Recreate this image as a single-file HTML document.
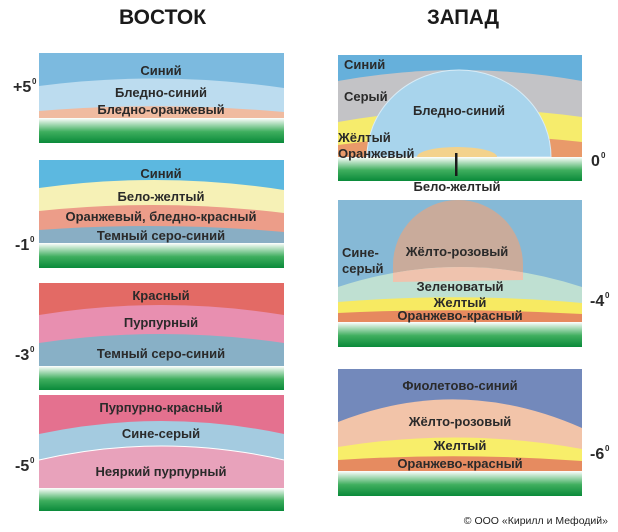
<!DOCTYPE html>
<html><head><meta charset="utf-8"><style>
html,body{margin:0;padding:0;background:#fff;width:618px;height:532px;overflow:hidden}
svg text{font-family:"Liberation Sans",sans-serif;font-weight:bold;fill:#2a2a2a}
</style></head><body>
<svg width="618" height="532" viewBox="0 0 618 532" xmlns="http://www.w3.org/2000/svg">
<defs>
<linearGradient id="g" x1="0" y1="0" x2="0" y2="1">
<stop offset="0" stop-color="#ffffff"/><stop offset="0.55" stop-color="#3fae5e"/><stop offset="1" stop-color="#0a8a3a"/>
</linearGradient>
<clipPath id="domeB"><path d="M393,282 L393,265 A65,65 0 0 1 523,265 L523,280 Z"/></clipPath>
</defs>
<g font-size="13">
<text x="119" y="24" font-size="21" textLength="87" lengthAdjust="spacingAndGlyphs" style="fill:#1a1a1a">ВОСТОК</text>
<text x="427" y="24" font-size="21" textLength="72" lengthAdjust="spacingAndGlyphs" style="fill:#1a1a1a">ЗАПАД</text>

<rect x="39" y="53" width="245" height="65" fill="#7cbadf"/>
<path d="M39,86 Q161,70 284,88 L284,118 L39,118 Z" fill="#bcdcef"/>
<path d="M39,111 Q161,101 284,112 L284,118 L39,118 Z" fill="#f0bba0"/>
<rect x="39" y="118" width="245" height="25" fill="url(#g)"/>
<text x="161" y="75" text-anchor="middle">Синий</text>
<text x="161" y="97" text-anchor="middle">Бледно-синий</text>
<text x="161" y="114" text-anchor="middle">Бледно-оранжевый</text>

<rect x="39" y="160" width="245" height="83" fill="#5cb8e0"/>
<path d="M39,188 Q161,171 284,190 L284,243 L39,243 Z" fill="#f6f1b6"/>
<path d="M39,211 Q161,198 284,213 L284,243 L39,243 Z" fill="#ec9d89"/>
<path d="M39,230 Q161,221 284,232 L284,243 L39,243 Z" fill="#89aec4"/>
<rect x="39" y="243" width="245" height="25" fill="url(#g)"/>
<text x="161" y="178" text-anchor="middle">Синий</text>
<text x="161" y="201" text-anchor="middle">Бело-желтый</text>
<text x="161" y="221" text-anchor="middle">Оранжевый, бледно-красный</text>
<text x="161" y="240" text-anchor="middle">Темный серо-синий</text>

<rect x="39" y="283" width="245" height="83" fill="#e36a65"/>
<path d="M39,315 Q161,295 284,315 L284,366 L39,366 Z" fill="#e88fb0"/>
<path d="M39,343 Q161,325 284,343 L284,366 L39,366 Z" fill="#88b0c6"/>
<rect x="39" y="366" width="245" height="24" fill="url(#g)"/>
<text x="161" y="300" text-anchor="middle">Красный</text>
<text x="161" y="327" text-anchor="middle">Пурпурный</text>
<text x="161" y="358" text-anchor="middle">Темный серо-синий</text>

<rect x="39" y="395" width="245" height="93" fill="#e4718f"/>
<path d="M39,434 Q161,408 284,434 L284,488 L39,488 Z" fill="#a4cbe0"/>
<path d="M39,460 Q161,432 284,460 L284,488 L39,488 Z" fill="#e8a2bb"/>
<path d="M39,460 Q161,432 284,460" fill="none" stroke="#fff" stroke-width="1"/>
<rect x="39" y="488" width="245" height="23" fill="url(#g)"/>
<text x="161" y="412" text-anchor="middle">Пурпурно-красный</text>
<text x="161" y="438" text-anchor="middle">Сине-серый</text>
<text x="161" y="476" text-anchor="middle">Неяркий пурпурный</text>

<text x="13" y="92" font-size="16">+5</text><text x="32" y="84" font-size="8">0</text>
<text x="15" y="250" font-size="16">-1</text><text x="30" y="242" font-size="8">0</text>
<text x="15" y="360" font-size="16">-3</text><text x="30" y="352" font-size="8">0</text>
<text x="15" y="471" font-size="16">-5</text><text x="30" y="463" font-size="8">0</text>

<rect x="338" y="55" width="244" height="102" fill="#66b0db"/>
<path d="M338,81 Q460,59 582,81 L582,157 L338,157 Z" fill="#c3c3c6"/>
<path d="M338,122 Q460,100 582,117 L582,157 L338,157 Z" fill="#f6ec6c"/>
<path d="M338,145 Q460,128 582,142 L582,157 L338,157 Z" fill="#e99a6a"/>
<path d="M367,157 A92,87 0 0 1 551,157 Z" fill="#a8d4ec" stroke="#d8ecf7" stroke-width="1"/>
<path d="M417,157 A40,10 0 0 1 497,157 Z" fill="#f3d28c"/>
<rect x="338" y="157" width="244" height="24" fill="url(#g)"/>
<rect x="455" y="153" width="2.5" height="23" fill="#1a1a1a"/>
<text x="344" y="69">Синий</text>
<text x="344" y="101">Серый</text>
<text x="459" y="115" text-anchor="middle">Бледно-синий</text>
<text x="338" y="142">Жёлтый</text>
<text x="338" y="158">Оранжевый</text>
<text x="457" y="191" text-anchor="middle">Бело-желтый</text>
<text x="591" y="166" font-size="16">0</text><text x="601" y="158" font-size="8">0</text>

<rect x="338" y="200" width="244" height="122" fill="#86b9d6"/>
<path d="M393,282 L393,265 A65,65 0 0 1 523,265 L523,282 Z" fill="#c9ab9b"/>
<path d="M338,287 Q460,247 582,287 L582,322 L338,322 Z" fill="#bfe0d2"/>
<g clip-path="url(#domeB)"><path d="M338,287 Q460,247 582,287 L582,322 L338,322 Z" fill="#efc3ae"/></g>
<path d="M338,302 Q460,292 582,303 L582,322 L338,322 Z" fill="#f7ea62"/>
<path d="M338,313 Q460,307 582,314 L582,322 L338,322 Z" fill="#e6895f"/>
<rect x="338" y="322" width="244" height="25" fill="url(#g)"/>
<text x="342" y="257">Сине-</text>
<text x="342" y="273">серый</text>
<text x="457" y="256" text-anchor="middle">Жёлто-розовый</text>
<text x="460" y="291" text-anchor="middle">Зеленоватый</text>
<text x="460" y="307" text-anchor="middle">Желтый</text>
<text x="460" y="320" text-anchor="middle">Оранжево-красный</text>
<text x="590" y="306" font-size="16">-4</text><text x="605" y="298" font-size="8">0</text>

<rect x="338" y="369" width="244" height="102" fill="#7389bb"/>
<path d="M338,422 Q460,374 582,428 L582,471 L338,471 Z" fill="#f2c4a9"/>
<path d="M338,447 Q460,427 582,449 L582,471 L338,471 Z" fill="#f8ee6a"/>
<path d="M338,460 Q460,452 582,461 L582,471 L338,471 Z" fill="#e68b60"/>
<rect x="338" y="471" width="244" height="25" fill="url(#g)"/>
<text x="460" y="390" text-anchor="middle">Фиолетово-синий</text>
<text x="460" y="426" text-anchor="middle">Жёлто-розовый</text>
<text x="460" y="450" text-anchor="middle">Желтый</text>
<text x="460" y="468" text-anchor="middle">Оранжево-красный</text>
<text x="590" y="459" font-size="16">-6</text><text x="605" y="451" font-size="8">0</text>

<text x="608" y="524" text-anchor="end" font-size="10.5" style="font-weight:normal;fill:#222">© ООО «Кирилл и Мефодий»</text>
</g>
</svg>
</body></html>
